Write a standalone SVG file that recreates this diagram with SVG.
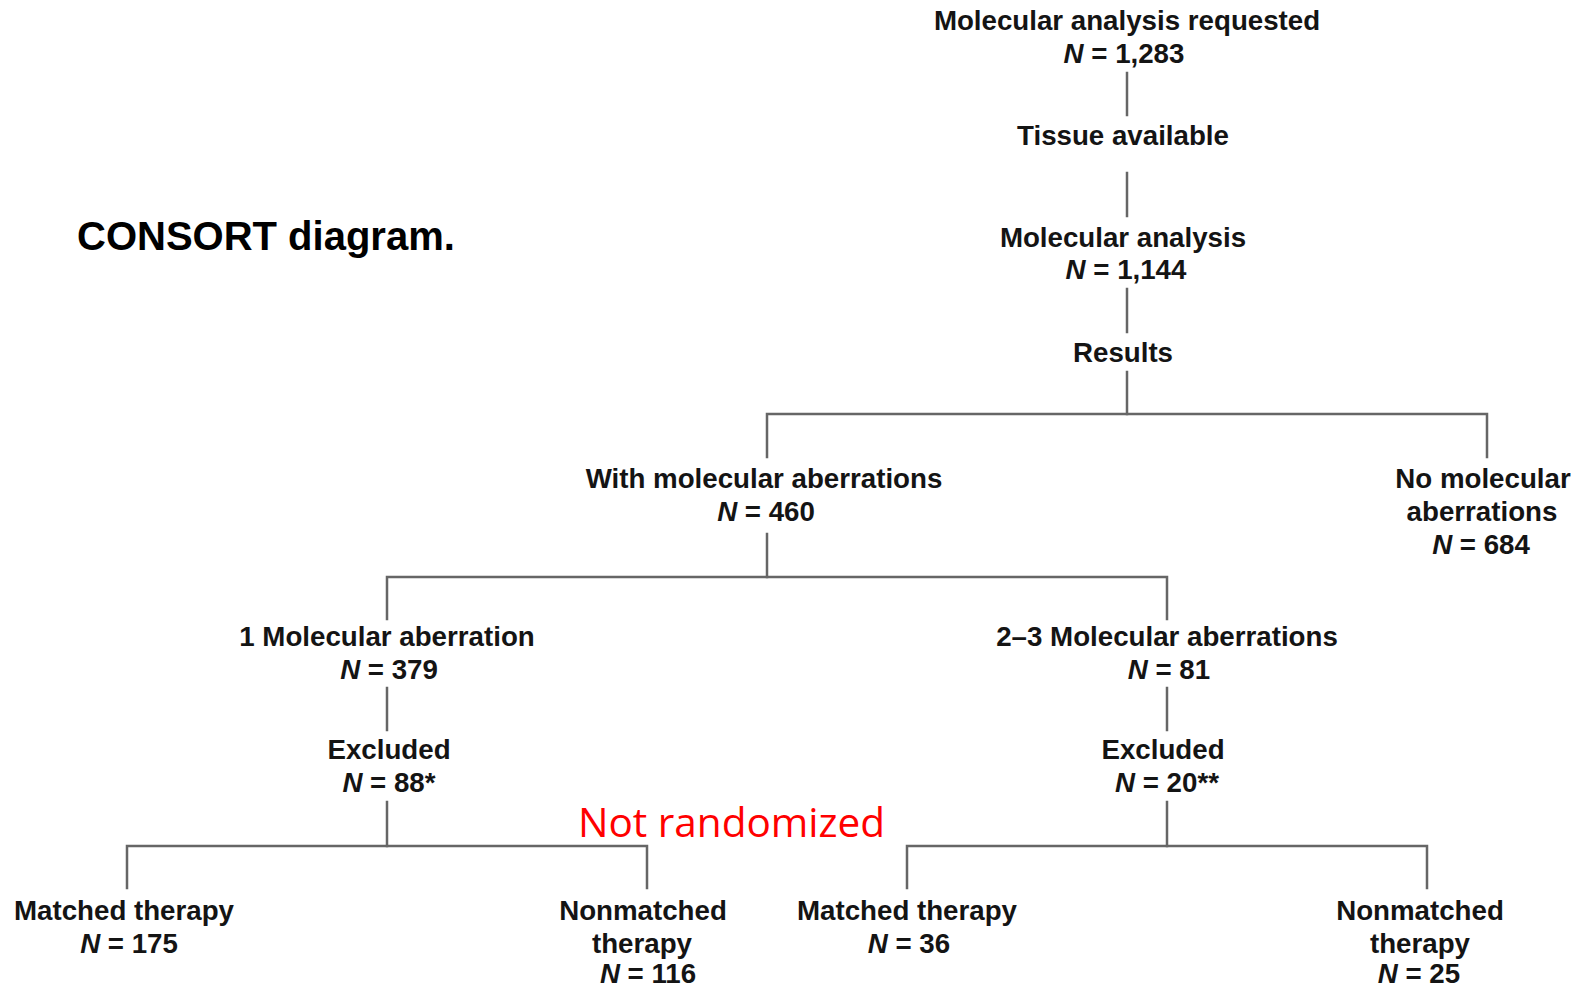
<svg xmlns="http://www.w3.org/2000/svg" width="1586" height="988" viewBox="0 0 1586 988">
  <style>
    .lbl { font-family: "Liberation Sans", Arial, sans-serif; font-weight: bold; font-size: 27.7px; fill: #141414; text-anchor: middle; }
    .n { font-style: italic; }
    .title { font-family: "Liberation Sans", Arial, sans-serif; font-weight: bold; font-size: 40px; fill: #000; }
    .note { font-family: "Open Sans", "Liberation Sans", sans-serif; font-size: 40px; fill: #ff0000; }
    .conn { stroke: #666; stroke-width: 2.5; fill: none; stroke-linecap: square; }
  </style>
  <rect width="1586" height="988" fill="#ffffff"/>

  <text class="title" x="77" y="250">CONSORT diagram.</text>

  <g id="connectors" class="conn">
    <line x1="1127" y1="73" x2="1127" y2="115"/>
    <line x1="1127" y1="173" x2="1127" y2="216"/>
    <line x1="1127" y1="289" x2="1127" y2="332"/>
    <line x1="1127" y1="372" x2="1127" y2="414"/>
    <polyline points="767,457 767,414 1487,414 1487,457"/>
    <line x1="767" y1="534" x2="767" y2="577"/>
    <polyline points="387,619 387,577 1167,577 1167,619"/>
    <line x1="387" y1="688" x2="387" y2="730"/>
    <line x1="1167" y1="688" x2="1167" y2="730"/>
    <line x1="387" y1="802" x2="387" y2="846"/>
    <line x1="1167" y1="802" x2="1167" y2="846"/>
    <polyline points="127,888 127,846 647,846 647,888"/>
    <polyline points="907,888 907,846 1427,846 1427,888"/>
  </g>

  <g id="requested">
    <text class="lbl" x="1127" y="30">Molecular analysis requested</text>
    <text class="lbl" x="1124" y="63"><tspan class="n">N</tspan> = 1,283</text>
  </g>
  <g id="tissue">
    <text class="lbl" x="1123" y="145">Tissue available</text>
  </g>
  <g id="analysis">
    <text class="lbl" x="1123" y="247">Molecular analysis</text>
    <text class="lbl" x="1126" y="279"><tspan class="n">N</tspan> = 1,144</text>
  </g>
  <g id="results">
    <text class="lbl" x="1123" y="362">Results</text>
  </g>
  <g id="with-aberrations">
    <text class="lbl" x="764" y="488">With molecular aberrations</text>
    <text class="lbl" x="766" y="521"><tspan class="n">N</tspan> = 460</text>
  </g>
  <g id="no-aberrations">
    <text class="lbl" x="1483" y="488">No molecular</text>
    <text class="lbl" x="1482" y="521">aberrations</text>
    <text class="lbl" x="1481" y="554"><tspan class="n">N</tspan> = 684</text>
  </g>
  <g id="one-aberration">
    <text class="lbl" x="387" y="646">1 Molecular aberration</text>
    <text class="lbl" x="389" y="679"><tspan class="n">N</tspan> = 379</text>
  </g>
  <g id="multi-aberrations">
    <text class="lbl" x="1167" y="646">2–3 Molecular aberrations</text>
    <text class="lbl" x="1169" y="679"><tspan class="n">N</tspan> = 81</text>
  </g>
  <g id="excluded-left">
    <text class="lbl" x="389" y="759">Excluded</text>
    <text class="lbl" x="389" y="792"><tspan class="n">N</tspan> = 88*</text>
  </g>
  <g id="excluded-right">
    <text class="lbl" x="1163" y="759">Excluded</text>
    <text class="lbl" x="1167" y="792"><tspan class="n">N</tspan> = 20**</text>
  </g>
  <g id="matched-left">
    <text class="lbl" x="124" y="920">Matched therapy</text>
    <text class="lbl" x="129" y="953"><tspan class="n">N</tspan> = 175</text>
  </g>
  <g id="nonmatched-left">
    <text class="lbl" x="643" y="920">Nonmatched</text>
    <text class="lbl" x="642" y="953">therapy</text>
    <text class="lbl" x="648" y="983"><tspan class="n">N</tspan> = 116</text>
  </g>
  <g id="matched-right">
    <text class="lbl" x="907" y="920">Matched therapy</text>
    <text class="lbl" x="909" y="953"><tspan class="n">N</tspan> = 36</text>
  </g>
  <g id="nonmatched-right">
    <text class="lbl" x="1420" y="920">Nonmatched</text>
    <text class="lbl" x="1420" y="953">therapy</text>
    <text class="lbl" x="1419" y="983"><tspan class="n">N</tspan> = 25</text>
  </g>

  <text class="note" x="578" y="837" textLength="307" lengthAdjust="spacingAndGlyphs">Not randomized</text>
</svg>
